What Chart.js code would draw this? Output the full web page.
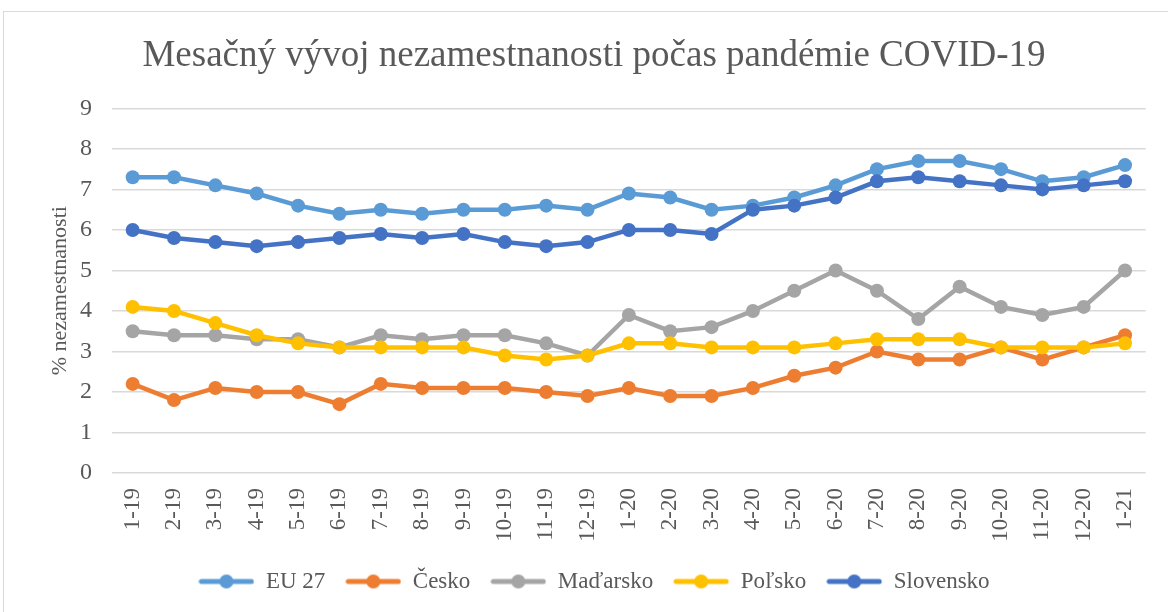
<!DOCTYPE html>
<html>
<head>
<meta charset="utf-8">
<script src="https://cdn.jsdelivr.net/npm/chart.js@4.4.1/dist/chart.umd.min.js"></script>
<style>
  html, body { margin: 0; padding: 0; background: #fff; overflow: hidden; }
  #frame {
    position: absolute; left: 3px; top: 11px;
    width: 1190px; height: 620px;
    border: 1px solid #d9d9d9;
  }
  #chart { position: absolute; left: 0; top: 0; }
</style>
</head>
<body>
<div id="frame"></div>
<canvas id="chart" width="1168" height="612"></canvas>
<script>
const months = ['1-19','2-19','3-19','4-19','5-19','6-19','7-19','8-19','9-19','10-19','11-19','12-19',
  '1-20','2-20','3-20','4-20','5-20','6-20','7-20','8-20','9-20','10-20','11-20','12-20','1-21'];

const eu27      = [7.3,7.3,7.1,6.9,6.6,6.4,6.5,6.4,6.5,6.5,6.6,6.5,6.9,6.8,6.5,6.6,6.8,7.1,7.5,7.7,7.7,7.5,7.2,7.3,7.6];
const cesko     = [2.2,1.8,2.1,2.0,2.0,1.7,2.2,2.1,2.1,2.1,2.0,1.9,2.1,1.9,1.9,2.1,2.4,2.6,3.0,2.8,2.8,3.1,2.8,3.1,3.4];
const madarsko  = [3.5,3.4,3.4,3.3,3.3,3.1,3.4,3.3,3.4,3.4,3.2,2.9,3.9,3.5,3.6,4.0,4.5,5.0,4.5,3.8,4.6,4.1,3.9,4.1,5.0];
const polsko    = [4.1,4.0,3.7,3.4,3.2,3.1,3.1,3.1,3.1,2.9,2.8,2.9,3.2,3.2,3.1,3.1,3.1,3.2,3.3,3.3,3.3,3.1,3.1,3.1,3.2];
const slovensko = [6.0,5.8,5.7,5.6,5.7,5.8,5.9,5.8,5.9,5.7,5.6,5.7,6.0,6.0,5.9,6.5,6.6,6.8,7.2,7.3,7.2,7.1,7.0,7.1,7.2];

const seriesNames = ['EU 27','Česko','Maďarsko','Poľsko','Slovensko'];
const seriesData = [eu27, cesko, madarsko, polsko, slovensko];
const colors = ['#5B9BD5','#ED7D31','#A5A5A5','#FFC000','#4472C4'];

const font = 'Liberation Serif, Times New Roman, serif';
const textColor = '#595959';

// little line+dot icon for the legend, like Excel
function legendIcon(color) {
  const c = document.createElement('canvas');
  c.width = 56; c.height = 16;
  const ctx = c.getContext('2d');
  ctx.strokeStyle = color;
  ctx.lineWidth = 5;
  ctx.lineCap = 'round';
  ctx.beginPath(); ctx.moveTo(3, 8); ctx.lineTo(53, 8); ctx.stroke();
  ctx.fillStyle = color;
  ctx.beginPath(); ctx.arc(28, 8, 7, 0, Math.PI * 2); ctx.fill();
  return c;
}
const icons = colors.map(legendIcon);

const datasets = seriesData.map((d, i) => ({
  label: seriesNames[i],
  data: d,
  borderColor: colors[i],
  backgroundColor: colors[i],
  borderWidth: 4.5,
  pointRadius: 7,
  pointHoverRadius: 7,
  pointBorderWidth: 0,
  tension: 0,
  order: seriesNames.length - i  // later series drawn on top
}));

new Chart(document.getElementById('chart'), {
  type: 'line',
  data: { labels: months, datasets },
  options: {
    responsive: false,
    animation: false,
    layout: { padding: { left: 38, right: 18, top: 0, bottom: 9 } },
    plugins: {
      title: {
        display: true,
        text: 'Mesačný vývoj nezamestnanosti počas pandémie COVID-19',
        color: textColor,
        font: { family: font, size: 37, weight: 'normal' },
        padding: { top: 34, bottom: 30 }
      },
      legend: {
        position: 'bottom',
        labels: {
          sort: (a, b) => a.datasetIndex - b.datasetIndex,
          generateLabels: (chart) => {
            const items = Chart.defaults.plugins.legend.labels.generateLabels(chart);
            items.forEach(it => { it.pointStyle = icons[it.datasetIndex]; });
            return items;
          },
          usePointStyle: true,
          pointStyleWidth: 56,
          color: textColor,
          font: { family: font, size: 23 },
          padding: 20
        }
      },
      tooltip: { enabled: false }
    },
    scales: {
      x: {
        offset: true,
        grid: { display: false, drawTicks: false },
        border: { display: false },
        ticks: {
          color: textColor,
          font: { family: font, size: 23 },
          minRotation: 90, maxRotation: 90,
          padding: 15,
          autoSkip: false
        },
        afterFit: (scale) => { scale.height = 77; }
      },
      y: {
        min: 0, max: 9,
        ticks: {
          stepSize: 1,
          color: textColor,
          font: { family: font, size: 24 },
          padding: 20
        },
        grid: { color: '#d9d9d9', lineWidth: 1.5, drawTicks: false },
        border: { display: false },
        title: {
          display: true,
          text: '% nezamestnanosti',
          color: textColor,
          font: { family: font, size: 22 },
          padding: { top: 9, bottom: 0 }
        },
        afterFit: (scale) => { scale.width = 74; }
      }
    }
  }
});
</script>
</body>
</html>
